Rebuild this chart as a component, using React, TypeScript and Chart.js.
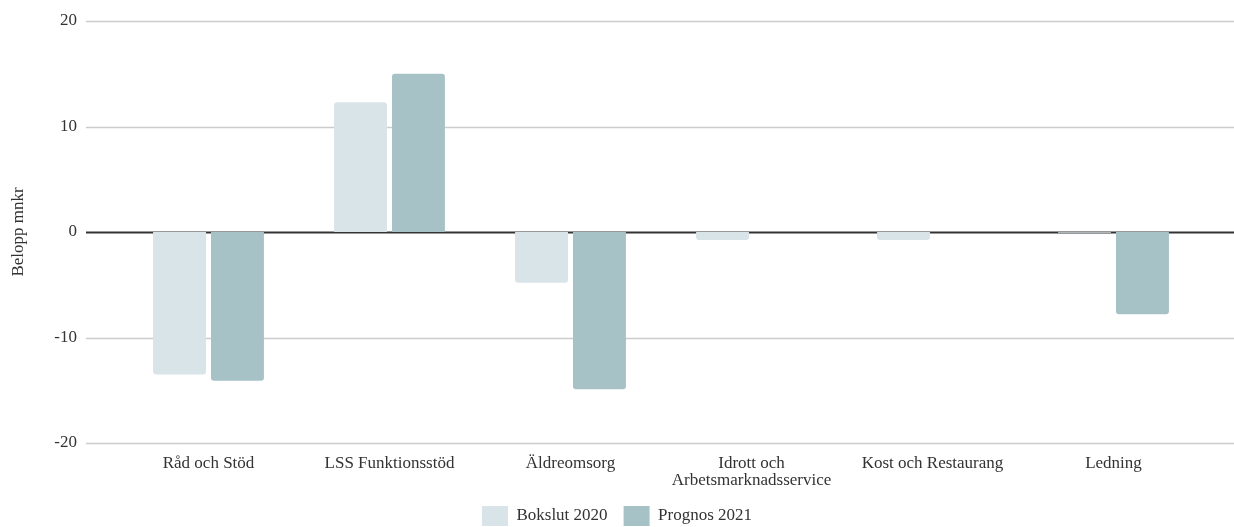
import React, { useEffect, useRef } from "react";
import { Chart, registerables } from "chart.js";

Chart.register(...registerables);

const categories: (string | string[])[] = [
  "Råd och Stöd",
  "LSS Funktionsstöd",
  "Äldreomsorg",
  ["Idrott och", "Arbetsmarknadsservice"],
  "Kost och Restaurang",
  "Ledning",
];
const bokslut2020 = [-13.5, 12.3, -4.8, -0.75, -0.75, -0.08];
const prognos2021 = [-14.1, 15.0, -14.9, 0, 0, -7.8];
const yTicks = [-20, -10, 0, 10, 20];

const FONT = "'Liberation Serif', 'Times New Roman', serif";
const TEXT = "#333333";

const extendedGrid = {
  id: "extendedGrid",
  beforeDatasetsDraw(chart: any) {
    const { ctx, chartArea, scales } = chart;
    const y = scales.y;
    ctx.save();
    y.ticks.forEach((t: any) => {
      const py = Math.round(y.getPixelForValue(t.value)) + 0.5;
      ctx.beginPath();
      ctx.strokeStyle = t.value === 0 ? "#333333" : "#cccccc";
      ctx.lineWidth = t.value === 0 ? 2 : 1.5;
      ctx.moveTo(chartArea.left - 32, py);
      ctx.lineTo(chartArea.right + 30, py);
      ctx.stroke();
    });
    ctx.restore();
  },
};

export default function App() {
  const ref = useRef<HTMLCanvasElement>(null);
  useEffect(() => {
    if (!ref.current) return;
    const chart = new Chart(ref.current, {
      type: "bar",
      data: {
        labels: categories as any,
        datasets: [
          {
            label: "Bokslut 2020",
            data: bokslut2020,
            backgroundColor: "#d9e4e8",
            borderRadius: 3,
            categoryPercentage: 0.64,
            barPercentage: 0.914,
          },
          {
            label: "Prognos 2021",
            data: prognos2021,
            backgroundColor: "#a7c2c7",
            borderRadius: 3,
            categoryPercentage: 0.64,
            barPercentage: 0.914,
          },
        ],
      },
      options: {
        animation: false,
        responsive: false,
        maintainAspectRatio: false,
        layout: { padding: { top: 21, right: 0, left: 0, bottom: 0 } },
        plugins: {
          tooltip: { enabled: false },
          legend: {
            position: "bottom",
            labels: {
              boxWidth: 26,
              boxHeight: 20,
              padding: 16,
              color: TEXT,
              font: { family: FONT, size: 17 },
            },
          },
        },
        scales: {
          x: {
            afterFit: (scale: any) => {
              scale.height = 47;
            },
            grid: { display: false, drawTicks: false },
            border: { display: false },
            ticks: {
              color: TEXT,
              font: { family: FONT, size: 17, lineHeight: 1 },
              maxRotation: 0,
              autoSkip: false,
              padding: 12,
            },
          },
          y: {
            min: -20,
            max: 20,
            afterBuildTicks: (scale: any) => {
              scale.ticks = yTicks.map((v) => ({ value: v }));
            },
            afterFit: (scale: any) => {
              scale.width = 118;
            },
            grid: { display: false, drawTicks: true, tickLength: 32 },
            border: { display: false },
            ticks: {
              color: TEXT,
              font: { family: FONT, size: 17 },
              padding: 9,
            },
            title: {
              display: true,
              text: "Belopp mnkr",
              color: TEXT,
              font: { family: FONT, size: 17 },
              padding: { top: 8, bottom: 0 },
            },
          },
          yRight: {
            position: "right",
            min: -20,
            max: 20,
            afterFit: (scale: any) => {
              scale.width = 30;
            },
            grid: { display: false, drawTicks: false },
            border: { display: false },
            ticks: { display: false },
          },
        },
      },
      plugins: [extendedGrid],
    });
    return () => chart.destroy();
  }, []);
  return (
    <div
      style={{
        position: "fixed",
        left: 0,
        top: 0,
        width: 1234,
        height: 527,
        overflow: "hidden",
        background: "#fff",
      }}
    >
      <canvas ref={ref} width={1234} height={536} style={{ display: "block" }} />
    </div>
  );
}
